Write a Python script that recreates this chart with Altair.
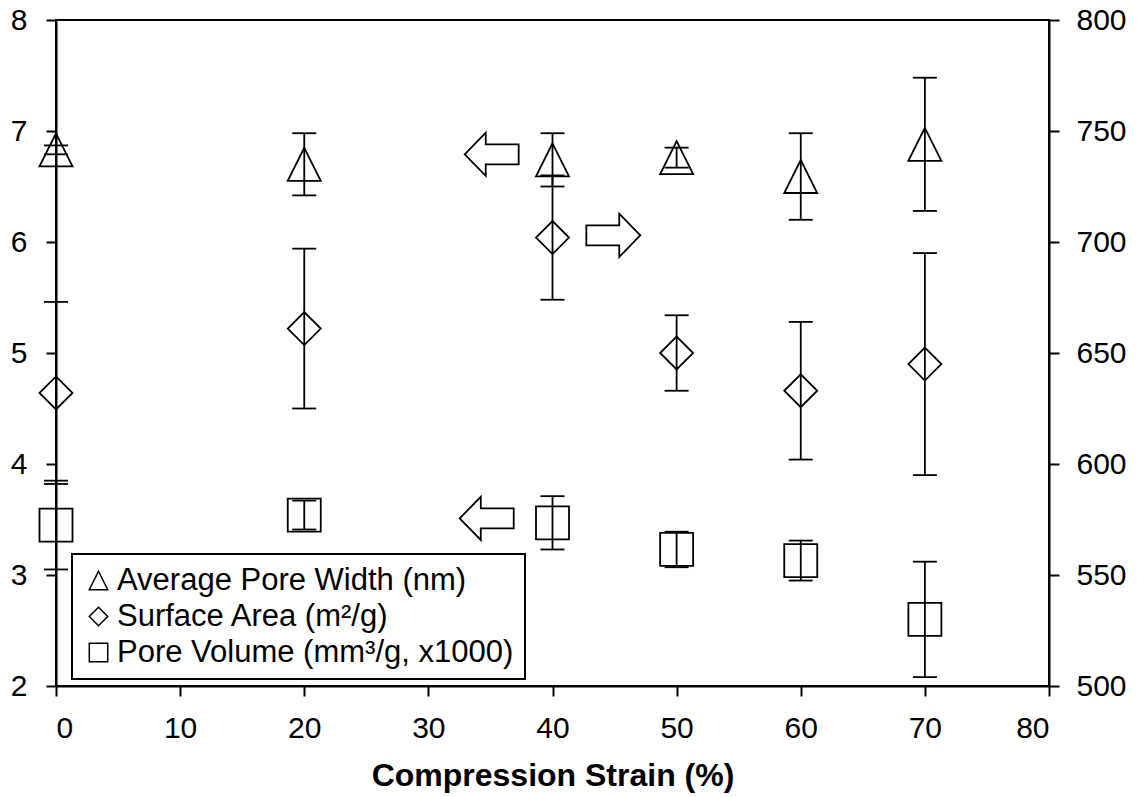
import altair as alt
import pandas as pd

# ---- data ----
strain = [0, 20, 40, 50, 60, 70]

width_mean = [6.83, 6.70, 6.74, 6.76, 6.59, 6.88]      # Average Pore Width (nm), left axis
width_err = [0.04, 0.28, 0.24, 0.09, 0.39, 0.60]

area_mean = [632, 661, 702, 650, 633, 645]              # Surface Area (m2/g), right axis
area_err = [41, 36, 28, 17, 31, 50]

volume_mean = [3.45, 3.54, 3.47, 3.23, 3.13, 2.60]      # Pore Volume, left axis
volume_err = [0.40, 0.13, 0.24, 0.16, 0.18, 0.52]

series_names = ["Average Pore Width (nm)", "Surface Area (m²/g)", "Pore Volume (mm³/g, x1000)"]

# annotation arrows (x in %, y on left axis)
arrow_x = [35.1, 44.9, 34.7]
arrow_y = [6.79, 6.06, 3.51]
arrow_dir = ["left", "right", "left"]

x_ticks = [0, 10, 20, 30, 40, 50, 60, 70, 80]
yl_ticks = [2, 3, 4, 5, 6, 7, 8]
yr_ticks = [500, 550, 600, 650, 700, 750, 800]

# ---- tables ----
rows_left = []
for x, m, e in zip(strain, width_mean, width_err):
    rows_left.append({"series": series_names[0], "x": x, "y": m, "lo": m - e, "hi": m + e})
for x, m, e in zip(strain, volume_mean, volume_err):
    rows_left.append({"series": series_names[2], "x": x, "y": m, "lo": m - e, "hi": m + e})
left_df = pd.DataFrame(rows_left)

right_df = pd.DataFrame({
    "series": [series_names[1]] * len(strain),
    "x": strain,
    "y": area_mean,
    "lo": [m - e for m, e in zip(area_mean, area_err)],
    "hi": [m + e for m, e in zip(area_mean, area_err)],
})

arrows_df = pd.DataFrame({"x": arrow_x, "y": arrow_y, "dir": arrow_dir})

FONT = "Liberation Sans"
LABEL_SIZE = 30
TRI = "M0,-1L1,1L-1,1Z"
LEFT_ARROW = "M-1,0L-0.22,-0.8L-0.22,-0.37L1,-0.37L1,0.37L-0.22,0.37L-0.22,0.8Z"
RIGHT_ARROW = "M1,0L0.22,-0.8L0.22,-0.37L-1,-0.37L-1,0.37L0.22,0.37L0.22,0.8Z"

common_axis = dict(grid=False, domainColor="black", domainWidth=2, tickColor="black",
                   tickWidth=2, tickSize=10, labelFont=FONT, labelFontSize=LABEL_SIZE,
                   labelColor="black")

x_axis = alt.Axis(values=x_ticks, title="Compression Strain (%)", labelPadding=17,
                  titlePadding=17, titleFont=FONT, titleFontSize=32, titleFontWeight="bold",
                  titleColor="black", **common_axis)
x_enc = alt.X("x:Q", scale=alt.Scale(domain=[0, 80], nice=False), axis=x_axis)

yl_scale = alt.Scale(domain=[2, 8], nice=False, zero=False)
yr_scale = alt.Scale(domain=[500, 800], nice=False, zero=False)
yl_axis = alt.Axis(orient="left", values=yl_ticks, labelPadding=19, **common_axis)
yr_axis = alt.Axis(orient="right", values=yr_ticks, labelPadding=17, **common_axis)

shape_scale = alt.Scale(domain=series_names, range=[TRI, "diamond", "square"])
legend = alt.Legend(orient="none", legendX=16, legendY=534, title=None,
                    labelFont=FONT, labelFontSize=31, labelColor="black",
                    labelLimit=1000, labelOffset=3, symbolSize=340,
                    symbolStrokeColor="black", symbolFillColor="transparent",
                    symbolStrokeWidth=1.5, strokeColor="black", fillColor="white",
                    padding=11, rowPadding=4)

LW = 1.8


def group(df, yscale, yaxis):
    base = alt.Chart(df)
    rules = base.mark_rule(color="black", strokeWidth=LW).encode(
        x=x_enc,
        y=alt.Y("lo:Q", scale=yscale, axis=yaxis, title=None),
        y2="hi:Q",
    )
    cap_hi = base.mark_tick(color="black", orient="horizontal", size=24, thickness=LW, opacity=1).encode(
        x=x_enc, y=alt.Y("hi:Q", scale=yscale, axis=yaxis, title=None)
    )
    cap_lo = base.mark_tick(color="black", orient="horizontal", size=24, thickness=LW, opacity=1).encode(
        x=x_enc, y=alt.Y("lo:Q", scale=yscale, axis=yaxis, title=None)
    )
    pts = base.mark_point(color="black", filled=False, size=1089, strokeWidth=LW, opacity=1).encode(
        x=x_enc,
        y=alt.Y("y:Q", scale=yscale, axis=yaxis, title=None),
        shape=alt.Shape("series:N", scale=shape_scale, legend=legend),
    )
    return [rules, cap_hi, cap_lo, pts]


left_layers = group(left_df, yl_scale, yl_axis)
arrow_l = alt.Chart(arrows_df).transform_filter(alt.datum.dir == "left").mark_point(
    shape=LEFT_ARROW, size=2916, color="black", filled=False, strokeWidth=LW, opacity=1
).encode(x=x_enc, y=alt.Y("y:Q", scale=yl_scale, axis=yl_axis, title=None))
arrow_r = alt.Chart(arrows_df).transform_filter(alt.datum.dir == "right").mark_point(
    shape=RIGHT_ARROW, size=2916, color="black", filled=False, strokeWidth=LW, opacity=1
).encode(x=x_enc, y=alt.Y("y:Q", scale=yl_scale, axis=yl_axis, title=None))

left_group = alt.layer(*left_layers, arrow_l, arrow_r)
right_group = alt.layer(*group(right_df, yr_scale, yr_axis))

chart = alt.layer(left_group, right_group).resolve_scale(y="independent").properties(
    width=993,
    height=666,
    padding={"left": 56, "top": 20, "right": 88, "bottom": 111},
    autosize=alt.AutoSizeParams(type="none"),
    background="white",
).configure_view(
    stroke="black", strokeWidth=2
).configure_legend(
    strokeWidth=2,
)

chart.save("out.html", embed_options={"renderer": "svg", "actions": False})
